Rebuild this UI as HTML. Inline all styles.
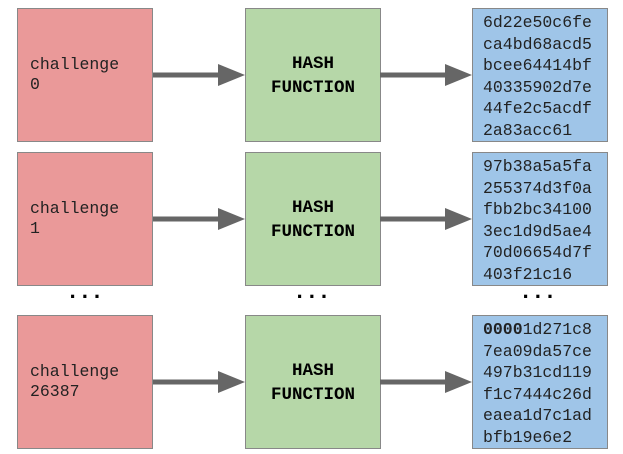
<html><body style="margin:0;width:623px;height:454px;background:#fff;position:relative;font-family:'Liberation Mono',monospace;overflow:hidden">
<style>
.b{position:absolute;box-sizing:border-box;border:1.5px solid #888;width:136px;height:134px}
.r{background:#ea9999;left:17px}.g{background:#b6d7a8;left:245px;text-align:center;font-weight:bold;font-size:17.5px;line-height:24px;padding-top:43px}
.u{background:#9fc5e8;left:472px;font-size:16.5px;line-height:21.5px;padding:3px 0 0 10px;color:#222}
.r{font-size:16.5px;line-height:20px;padding-top:46px;padding-left:12px;color:#222}
.d{position:absolute;font-weight:bold;font-size:22px;top:280px;letter-spacing:-1px}
</style>
<div class="b r" style="top:8px">challenge<br>0</div>
<div class="b g" style="top:8px">HASH<br>FUNCTION</div>
<div class="b u" style="top:8px">6d22e50c6fe<br>ca4bd68acd5<br>bcee64414bf<br>40335902d7e<br>44fe2c5acdf<br>2a83acc61</div>
<div class="b r" style="top:152px">challenge<br>1</div>
<div class="b g" style="top:152px">HASH<br>FUNCTION</div>
<div class="b u" style="top:152px">97b38a5a5fa<br>255374d3f0a<br>fbb2bc34100<br>3ec1d9d5ae4<br>70d06654d7f<br>403f21c16</div>
<div class="b r" style="top:315px">challenge<br>26387</div>
<div class="b g" style="top:315px">HASH<br>FUNCTION</div>
<div class="b u" style="top:315px"><b>0000</b>1d271c8<br>7ea09da57ce<br>497b31cd119<br>f1c7444c26d<br>eaea1d7c1ad<br>bfb19e6e2</div>
<div class="d" style="left:66px">...</div>
<div class="d" style="left:293px">...</div>
<div class="d" style="left:519px">...</div>
<svg width="623" height="454" style="position:absolute;left:0;top:0">
<g fill="#666" stroke="#666">
<g id="a"><line x1="153" y1="75" x2="222" y2="75" stroke-width="5"/><polygon points="218,64 245,75 218,86" stroke="none"/>
<line x1="380" y1="75" x2="449" y2="75" stroke-width="5"/><polygon points="445,64 472,75 445,86" stroke="none"/></g>
<use href="#a" y="144"/><use href="#a" y="307"/>
</g></svg>
</body></html>
